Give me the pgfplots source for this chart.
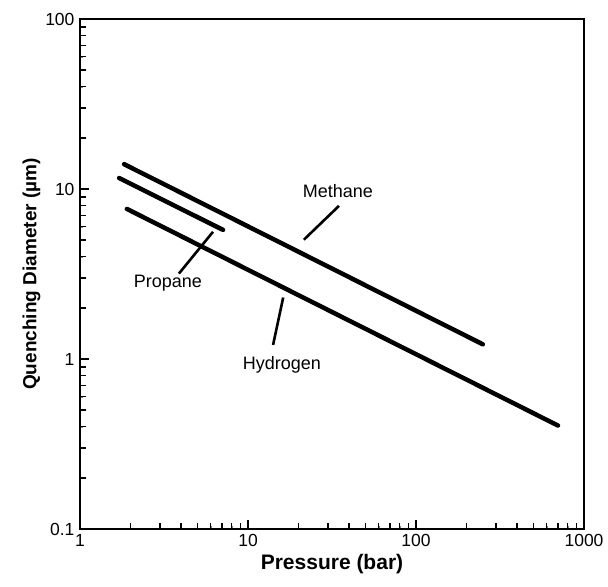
\documentclass[border=0pt]{standalone}
\usepackage{fontspec}
\setmainfont{Liberation Sans}
\usepackage{pgfplots}
\pgfplotsset{compat=1.18}

\begin{document}
\begin{tikzpicture}
\begin{axis}[
  scale only axis,
  width=504pt, height=510pt,
  xmode=log, ymode=log,
  xmin=1, xmax=1000, ymin=0.1, ymax=100,
  xtick={1,10,100,1000}, xticklabels={1,10,100,1000},
  ytick={0.1,1,10,100}, yticklabels={0.1,1,10,100},
  tick align=inside,
  tick pos=left,
  major tick length=9pt,
  axis line style={line width=1.4pt},
  tick label style={font=\fontsize{17.5}{17.5}\selectfont},
  xticklabel style={yshift=-2pt},
  yticklabel style={xshift=-2pt},
  /pgf/number format/assume math mode=true,
  xlabel={\textbf{Pressure (bar)}},
  ylabel={\textbf{Quenching Diameter (\textmu m)}},
  xlabel style={font=\fontsize{21}{21}\selectfont},
  ylabel style={font=\fontsize{19}{19}\selectfont, yshift=-2pt},
  clip=false,
]
% tick marks along the bottom and left edges
\pgfplotsinvokeforeach{2,3,4,5,6,7,8,9,20,30,40,50,60,70,80,90,200,300,400,500,600,700,800,900}{
  \draw[black, line width=1.5pt] (axis cs:#1,0.1) -- ([yshift=6pt]axis cs:#1,0.1);
}
\pgfplotsinvokeforeach{10,100}{
  \draw[black, line width=1.5pt] (axis cs:#1,0.1) -- ([yshift=9pt]axis cs:#1,0.1);
}
\pgfplotsinvokeforeach{0.2,0.3,0.4,0.5,0.6,0.7,0.8,0.9,2,3,4,5,6,7,8,9,20,30,40,50,60,70,80,90}{
  \draw[black, line width=1.5pt] (axis cs:1,#1) -- ([xshift=6pt]axis cs:1,#1);
}
\pgfplotsinvokeforeach{1,10,100}{
  \draw[black, line width=1.5pt] (axis cs:1,#1) -- ([xshift=9pt]axis cs:1,#1);
}

% Quenching diameter vs pressure
\addplot[black, line width=4.5pt, line cap=round] coordinates {(1.83,14.0) (250,1.22)};   % methane
\addplot[black, line width=4.5pt, line cap=round] coordinates {(1.71,11.6) (7.1,5.75)};   % propane
\addplot[black, line width=4.5pt, line cap=round] coordinates {(1.90,7.64) (700,0.406)};  % hydrogen

% leaders and labels
\draw[line width=2.6pt] (axis cs:21.5,5.03) -- (axis cs:34.8,7.96);
\node[font=\fontsize{18}{18}\selectfont] at (axis cs:34.3,9.73) {Methane};
\draw[line width=2.6pt] (axis cs:3.88,3.18) -- (axis cs:6.19,5.60);
\node[font=\fontsize{18}{18}\selectfont] at (axis cs:3.34,2.78) {Propane};
\draw[line width=2.6pt] (axis cs:14.1,1.21) -- (axis cs:16.2,2.30);
\node[font=\fontsize{18}{18}\selectfont] at (axis cs:15.9,0.92) {Hydrogen};

\coordinate (bl) at (rel axis cs:0,0);
\coordinate (tr) at (rel axis cs:1,1);
\end{axis}
\useasboundingbox ([shift={(-80pt,-57pt)}]bl) rectangle ([shift={(24pt,19pt)}]tr);
\end{tikzpicture}
\end{document}
